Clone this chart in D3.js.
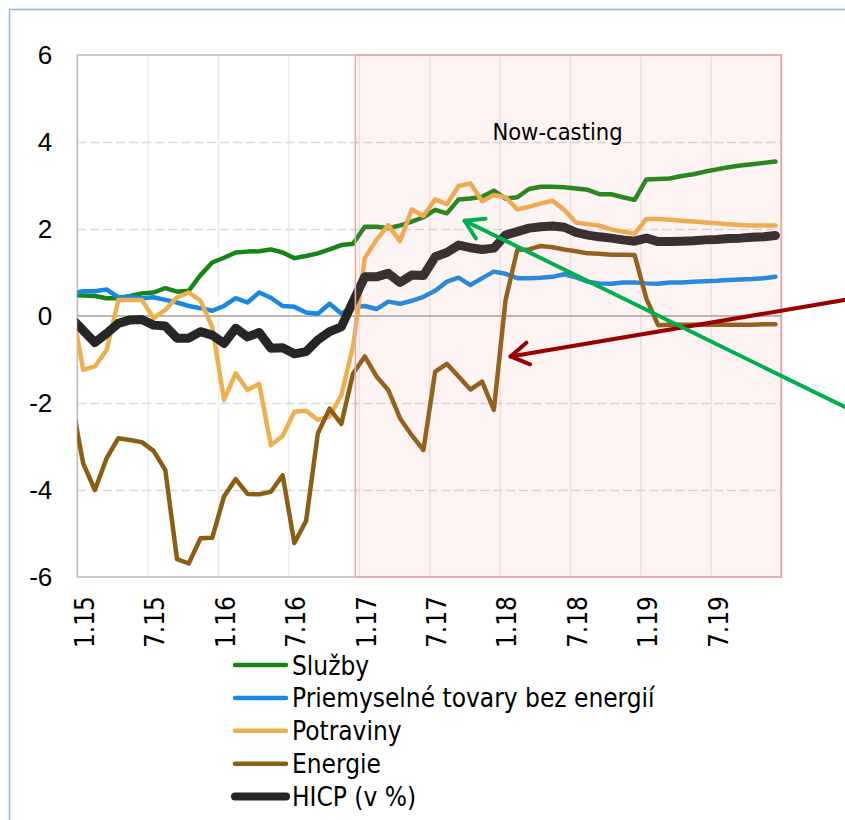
<!DOCTYPE html>
<html>
<head>
<meta charset="utf-8">
<script src="https://cdn.jsdelivr.net/npm/d3@7/dist/d3.min.js"></script>
<style>
  html, body { margin: 0; padding: 0; background: #fff; }
  svg { display: block; }
  text { font-family: "DejaVu Sans Condensed", "Liberation Sans", Arial, sans-serif; fill: #000; }
</style>
</head>
<body>
<svg id="chart" width="845" height="820"></svg>
<script>
// Monthly year-on-year changes, December 2014 to December 2019 (%).
const monthLabels = [
  "12.14",
  "1.15","2.15","3.15","4.15","5.15","6.15","7.15","8.15","9.15","10.15","11.15","12.15",
  "1.16","2.16","3.16","4.16","5.16","6.16","7.16","8.16","9.16","10.16","11.16","12.16",
  "1.17","2.17","3.17","4.17","5.17","6.17","7.17","8.17","9.17","10.17","11.17","12.17",
  "1.18","2.18","3.18","4.18","5.18","6.18","7.18","8.18","9.18","10.18","11.18","12.18",
  "1.19","2.19","3.19","4.19","5.19","6.19","7.19","8.19","9.19","10.19","11.19","12.19"
];

const sluzby = [
  0.48,
  0.47, 0.46, 0.41, 0.41, 0.46, 0.52, 0.54, 0.64, 0.56, 0.58, 0.94, 1.23,
  1.34, 1.46, 1.48, 1.49, 1.53, 1.46, 1.33, 1.38, 1.44, 1.53, 1.63, 1.66,
  2.05, 2.05, 2.02, 2.08, 2.17, 2.27, 2.44, 2.36, 2.68, 2.70, 2.74, 2.88,
  2.70, 2.73, 2.92, 2.97, 2.97, 2.96, 2.93, 2.90, 2.80, 2.80, 2.73, 2.67,
  3.14, 3.15, 3.16, 3.22, 3.26, 3.32, 3.37, 3.42, 3.46, 3.49, 3.52, 3.55
];

const priemyselneTovary = [
  0.51,
  0.57, 0.57, 0.61, 0.43, 0.44, 0.41, 0.43, 0.37, 0.31, 0.23, 0.18, 0.12,
  0.23, 0.41, 0.31, 0.54, 0.42, 0.23, 0.21, 0.08, 0.05, 0.28, 0.06, 0.20,
  0.23, 0.16, 0.33, 0.28, 0.35, 0.44, 0.58, 0.79, 0.88, 0.71, 0.87, 1.02,
  0.97, 0.87, 0.87, 0.88, 0.90, 0.96, 0.89, 0.79, 0.75, 0.74, 0.77, 0.77,
  0.75, 0.74, 0.77, 0.77, 0.79, 0.80, 0.81, 0.83, 0.84, 0.85, 0.87, 0.90
];

const potraviny = [
  0.28,
  -1.24, -1.16, -0.78, 0.37, 0.37, 0.37, -0.05, 0.14, 0.43, 0.54, 0.35, -0.25,
  -1.93, -1.32, -1.70, -1.56, -2.97, -2.76, -2.20, -2.18, -2.39, -2.31, -1.82, -0.70,
  1.33, 1.75, 2.09, 1.72, 2.45, 2.30, 2.68, 2.57, 2.99, 3.05, 2.64, 2.78,
  2.73, 2.45, 2.51, 2.59, 2.65, 2.44, 2.15, 2.11, 2.08, 1.99, 1.94, 1.89,
  2.23, 2.23, 2.21, 2.19, 2.17, 2.15, 2.13, 2.11, 2.09, 2.08, 2.08, 2.08
];

const energie = [
  -1.93,
  -3.39, -4.00, -3.27, -2.81, -2.85, -2.90, -3.10, -3.54, -5.59, -5.69, -5.11, -5.10,
  -4.15, -3.75, -4.09, -4.10, -4.04, -3.66, -5.22, -4.71, -2.70, -2.13, -2.48, -1.32,
  -0.93, -1.39, -1.70, -2.35, -2.74, -3.08, -1.28, -1.10, -1.39, -1.69, -1.51, -2.16,
  0.37, 1.52, 1.53, 1.61, 1.58, 1.53, 1.49, 1.44, 1.43, 1.41, 1.41, 1.40,
  0.40, -0.21, -0.20, -0.20, -0.20, -0.20, -0.20, -0.20, -0.20, -0.20, -0.19, -0.19
];

const hicp = [
  -0.05,
  -0.33, -0.61, -0.40, -0.17, -0.09, -0.08, -0.21, -0.23, -0.51, -0.51, -0.36, -0.44,
  -0.63, -0.28, -0.48, -0.38, -0.74, -0.73, -0.87, -0.82, -0.55, -0.36, -0.25, 0.33,
  0.90, 0.90, 0.98, 0.77, 0.94, 0.93, 1.36, 1.46, 1.63, 1.57, 1.53, 1.56,
  1.86, 1.94, 2.02, 2.05, 2.07, 2.04, 1.92, 1.86, 1.82, 1.79, 1.75, 1.72,
  1.79, 1.71, 1.71, 1.72, 1.73, 1.75, 1.76, 1.78, 1.79, 1.81, 1.82, 1.85
];

const seriesNames = ["Služby", "Priemyselné tovary bez energií", "Potraviny", "Energie", "HICP (v %)"];
const seriesValues = [sluzby, priemyselneTovary, potraviny, energie, hicp];
const seriesColors = ["#168516", "#1789e4", "#eeb04f", "#8b5e12", "#262626"];
const seriesWidths = [4.5, 4.5, 4.5, 4.5, 9];

const xTickLabels = ["1.15", "7.15", "1.16", "7.16", "1.17", "7.17", "1.18", "7.18", "1.19", "7.19"];
const yTicks = [-6, -4, -2, 0, 2, 4, 6];

// Now-casting period starts with the January 2017 release.
const nowcastStart = "1.17";
const nowcastLabel = "Now-casting";

// Month index relative to January 2015 (December 2014 = -1).
const monthIndex = monthLabels.map((_, i) => i - 1);

const svg = d3.select("#chart");
const plot = { left: 77.3, top: 55, right: 781.3, bottom: 577 };

// Outer frame
svg.append("rect")
  .attr("x", 9.5).attr("y", 9.5).attr("width", 900).attr("height", 900)
  .attr("fill", "none").attr("stroke", "#93b6e4").attr("stroke-width", 1.5);

const x = d3.scaleLinear().domain([-0.5, 59.5]).range([plot.left, plot.right]);
const y = d3.scaleLinear().domain([-6, 6]).range([plot.bottom, plot.top]);

// Vertical gridlines at half-year boundaries
const vBoundaries = d3.range(0, 11).map(k => k * 6 - 0.5);
svg.append("g")
  .attr("transform", `translate(0,${plot.bottom})`)
  .call(d3.axisBottom(x).tickValues(vBoundaries).tickSize(-(plot.bottom - plot.top)).tickFormat(""))
  .call(g => g.select(".domain").remove())
  .call(g => g.selectAll("line").attr("stroke", "#ebebeb").attr("stroke-width", 1.5));

// Horizontal dashed gridlines
svg.append("g")
  .attr("transform", `translate(${plot.left},0)`)
  .call(d3.axisLeft(y).tickValues(yTicks.filter(v => v !== 0 && Math.abs(v) !== 6))
    .tickSize(-(plot.right - plot.left)).tickFormat(""))
  .call(g => g.select(".domain").remove())
  .call(g => g.selectAll("line").attr("stroke", "#d9d9d9").attr("stroke-width", 1.5)
    .attr("stroke-dasharray", "9,4"));

// Plot frame
svg.append("rect")
  .attr("x", plot.left).attr("y", plot.top)
  .attr("width", plot.right - plot.left).attr("height", plot.bottom - plot.top)
  .attr("fill", "none").attr("stroke", "#c0c0c0").attr("stroke-width", 1.6);

// Zero line
svg.append("line")
  .attr("x1", plot.left).attr("x2", plot.right)
  .attr("y1", y(0)).attr("y2", y(0))
  .attr("stroke", "#a0a0a0").attr("stroke-width", 1.6);

// Y axis labels
svg.append("g")
  .attr("transform", `translate(${plot.left},0)`)
  .call(d3.axisLeft(y).tickValues(yTicks).tickSize(0).tickPadding(25).tickFormat(d => String(d)))
  .call(g => g.select(".domain").remove())
  .call(g => g.selectAll("text")
    .attr("font-size", 26)
    .style("font-family", "inherit"));

// X axis labels, rotated
const xTickIdx = xTickLabels.map(l => monthIndex[monthLabels.indexOf(l)]);
const xAxisG = svg.append("g").attr("class", "x-labels");
xAxisG.selectAll("text")
  .data(xTickIdx)
  .join("text")
  .attr("transform", d => `translate(${x(d) + 1},596) rotate(-90)`)
  .attr("text-anchor", "end")
  .attr("dy", "0.38em")
  .attr("font-size", 26)
  .text((d, i) => xTickLabels[i]);

// Clip for the series
svg.append("clipPath").attr("id", "plot-clip")
  .append("rect")
  .attr("x", plot.left).attr("y", plot.top)
  .attr("width", plot.right - plot.left).attr("height", plot.bottom - plot.top);

const line = d3.line()
  .x((d, i) => x(monthIndex[i]))
  .y(d => y(d));

const seriesG = svg.append("g").attr("clip-path", "url(#plot-clip)");
seriesValues.forEach((vals, k) => {
  seriesG.append("path")
    .datum(vals)
    .attr("d", line)
    .attr("fill", "none")
    .attr("stroke", seriesColors[k])
    .attr("stroke-width", seriesWidths[k])
    .attr("stroke-linejoin", "round")
    .attr("stroke-linecap", "round");
});

// Now-casting band (translucent overlay)
const bandLeft = x(monthIndex[monthLabels.indexOf(nowcastStart)] - 0.8);
svg.append("rect")
  .attr("x", bandLeft).attr("y", plot.top)
  .attr("width", plot.right - bandLeft).attr("height", plot.bottom - plot.top)
  .attr("fill", "rgb(235,135,135)").attr("fill-opacity", 0.1)
  .attr("stroke", "#eaa9a9").attr("stroke-width", 1.6);

svg.append("text")
  .attr("x", 557.5).attr("y", 139.5)
  .attr("text-anchor", "middle")
  .attr("font-size", 23.5)
  .text(nowcastLabel);

// Annotation arrows
function arrow(tip, tail, color) {
  const ang = Math.atan2(tail[1] - tip[1], tail[0] - tip[0]);
  const len = 21, spread = 0.55;
  const g = svg.append("g").attr("stroke", color).attr("stroke-width", 4)
    .attr("fill", "none").attr("stroke-linecap", "round").attr("stroke-linejoin", "round");
  g.append("line")
    .attr("x1", tail[0]).attr("y1", tail[1]).attr("x2", tip[0]).attr("y2", tip[1]);
  g.append("path")
    .attr("d", d3.line()([
      [tip[0] + len * Math.cos(ang + spread), tip[1] + len * Math.sin(ang + spread)],
      tip,
      [tip[0] + len * Math.cos(ang - spread), tip[1] + len * Math.sin(ang - spread)]
    ]));
}
// Red arrow points at the January 2018 energy jump, green at the services line in autumn 2017.
arrow([x(monthIndex[monthLabels.indexOf("1.18")]) + 5, y(-0.93)], [900, 290.6], "#990000");
arrow([x(monthIndex[monthLabels.indexOf("9.17")]) + 6, y(2.19)], [900, 434], "#00b04f");

// Legend
const legend = svg.append("g");
const legendTop = 665, legendStep = 32.9;
seriesNames.forEach((name, k) => {
  const ly = legendTop + k * legendStep;
  legend.append("line")
    .attr("x1", 235).attr("x2", 286)
    .attr("y1", ly).attr("y2", ly)
    .attr("stroke", seriesColors[k])
    .attr("stroke-width", k === 4 ? 8 : 4.5)
    .attr("stroke-linecap", "round");
  legend.append("text")
    .attr("x", 292).attr("y", ly + 9.5)
    .attr("font-size", 26)
    .text(name);
});
</script>
</body>
</html>
